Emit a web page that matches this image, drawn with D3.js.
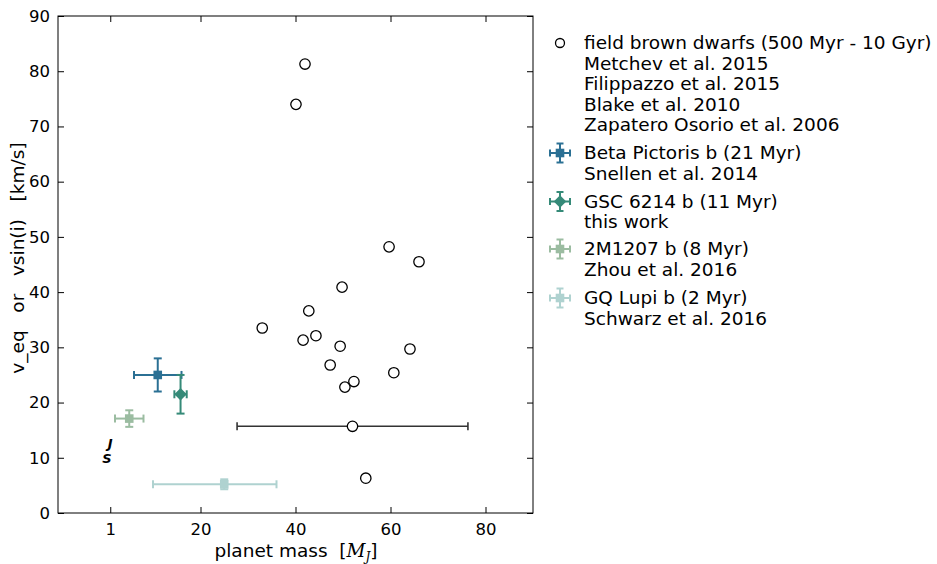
<!DOCTYPE html>
<html><head><meta charset="utf-8">
<script src="https://cdn.jsdelivr.net/npm/d3@7"></script>
<style>
body{margin:0;background:#fff;}
text{font-family:"DejaVu Sans",sans-serif;}
</style></head>
<body><svg id="c" width="937" height="564"></svg>
<script>
// Field brown dwarfs: mass [MJ], v [km/s], mass error (0 = none)
const bdMass = [42.0, 40.1, 59.7, 66.0, 49.8, 42.8, 33.0, 41.6, 44.3, 49.4, 64.1, 47.3, 60.7, 52.3, 50.4, 52.0, 54.8];
const bdVel  = [81.3, 74.0, 48.2, 45.5, 40.9, 36.6, 33.5, 31.3, 32.1, 30.2, 29.7, 26.8, 25.4, 23.8, 22.8, 15.7, 6.3];
const bdMassErr = [0,0,0,0,0,0,0,0,0,0,0,0,0,0,0,24.3,0];

// Young companions
const compNames = ["Beta Pictoris b (21 Myr)", "GSC 6214 b (11 Myr)", "2M1207 b (8 Myr)", "GQ Lupi b (2 Myr)"];
const compRefs  = ["Snellen et al. 2014", "this work", "Zhou et al. 2016", "Schwarz et al. 2016"];
const compMass  = [11.0, 15.8, 5.0, 25.0];
const compMassLo = [5.0, 1.3, 3.0, 15.0];
const compMassHi = [5.0, 1.3, 3.0, 11.0];
const compVel   = [25.0, 21.5, 17.1, 5.2];
const compVelErr = [3.0, 3.5, 1.5, 0.9];
const compShape = ["square", "diamond", "square", "square"];
const compColor = ["#2b7094", "#358a78", "#9bbca1", "#afd2d0"];

const bdLegend = ["field brown dwarfs (500 Myr - 10 Gyr)", "Metchev et al. 2015", "Filippazzo et al. 2015", "Blake et al. 2010", "Zapatero Osorio et al. 2006"];

// Solar system planets
const ssLabels = ["J", "S"];
const ssMass = [1.0, 0.3];
const ssVel = [12.6, 9.9];

const xTicks = [1, 20, 40, 60, 80];
const yTicks = [0,10,20,30,40,50,60,70,80,90];

const svg = d3.select("#c");
const L = 58, R = 533, T = 16, B = 513;
const x = d3.scaleLinear().domain([-10, 90]).range([L, R]);
const y = d3.scaleLinear().domain([0, 90]).range([B, T]);

const g = svg.append("g");

// frame
g.append("rect").attr("x", L).attr("y", T).attr("width", R-L).attr("height", B-T)
 .attr("fill", "none").attr("stroke", "#000").attr("stroke-width", 1);

// axes with inward ticks
const axB = d3.axisBottom(x).tickValues(xTicks).tickSize(-6).tickPadding(10).tickFormat(d3.format("d"));
const axT = d3.axisTop(x).tickValues(xTicks).tickSize(-6).tickFormat("");
const axL = d3.axisLeft(y).tickValues(yTicks).tickSize(-6).tickPadding(8).tickFormat(d3.format("d"));
const axR = d3.axisRight(y).tickValues(yTicks).tickSize(-6).tickFormat("");
function styleAx(sel){
  sel.select(".domain").remove();
  sel.selectAll(".tick line").attr("stroke", "#000").attr("stroke-width", 1);
  sel.selectAll(".tick text").attr("font-size", 16.5).attr("fill", "#000").attr("font-family", "DejaVu Sans");
}
g.append("g").attr("transform", `translate(0,${B})`).call(axB).call(styleAx);
g.append("g").attr("transform", `translate(0,${T})`).call(axT).call(styleAx);
g.append("g").attr("transform", `translate(${L},0)`).call(axL).call(styleAx);
g.append("g").attr("transform", `translate(${R},0)`).call(axR).call(styleAx);

// axis labels
svg.append("text").attr("x", 296).attr("y", 557).attr("text-anchor", "middle")
  .attr("font-size", 18.5).attr("fill", "#000")
  .html('planet mass&#160;&#160;[<tspan font-family="DejaVu Serif" font-style="italic">M</tspan><tspan font-family="DejaVu Serif" font-style="italic" font-size="12" dy="4">J</tspan><tspan dy="-4">]</tspan>');
svg.append("text").attr("transform", `translate(24,258) rotate(-90)`)
  .attr("text-anchor", "middle").attr("font-size", 18.5).attr("fill", "#000")
  .style("white-space", "pre")
  .text("v_eq   or   vsin(i)   [km/s]");

// error bar helper
function errBar(sel, cx, cy, x0, x1, y0, y1, color, sw, cap){
  const gg = sel.append("g").attr("stroke", color).attr("stroke-width", sw).attr("fill", "none");
  if (x0 !== x1){
    gg.append("line").attr("x1", x0).attr("x2", x1).attr("y1", cy).attr("y2", cy);
    gg.append("line").attr("x1", x0).attr("x2", x0).attr("y1", cy-cap).attr("y2", cy+cap);
    gg.append("line").attr("x1", x1).attr("x2", x1).attr("y1", cy-cap).attr("y2", cy+cap);
  }
  if (y0 !== y1){
    gg.append("line").attr("x1", cx).attr("x2", cx).attr("y1", y0).attr("y2", y1);
    gg.append("line").attr("x1", cx-cap).attr("x2", cx+cap).attr("y1", y0).attr("y2", y0);
    gg.append("line").attr("x1", cx-cap).attr("x2", cx+cap).attr("y1", y1).attr("y2", y1);
  }
}

// brown dwarfs
const bd = bdMass.map((m,i)=>({m, v: bdVel[i], e: bdMassErr[i]}));
bd.filter(d=>d.e>0).forEach(d=>{
  errBar(g, x(d.m), y(d.v), x(d.m-d.e), x(d.m+d.e), y(d.v), y(d.v), "#333", 1.6, 4);
});
g.selectAll("circle.bd").data(bd).enter().append("circle").attr("class","bd")
  .attr("cx", d=>x(d.m)).attr("cy", d=>y(d.v)).attr("r", 5.2)
  .attr("fill", "#fff").attr("stroke", "#000").attr("stroke-width", 1.3);

// solar system letters
ssLabels.forEach((s,i)=>{
  g.append("text").attr("x", x(ssMass[i])).attr("y", y(ssVel[i])).attr("dy", "0.35em")
   .attr("text-anchor", "middle").attr("font-family", "DejaVu Serif").attr("font-style", "italic")
   .attr("font-weight", "bold").attr("font-size", 13).attr("fill", "#000").text(s);
});

function marker(sel, shape, cx, cy, color, s){
  if (shape === "square"){
    sel.append("rect").attr("x", cx-s).attr("y", cy-s).attr("width", 2*s).attr("height", 2*s).attr("fill", color);
  } else {
    const d = s*1.45;
    sel.append("path").attr("d", `M${cx},${cy-d}L${cx+d},${cy}L${cx},${cy+d}L${cx-d},${cy}Z`).attr("fill", color);
  }
}

// companions
[3,2,0,1].forEach(i=>{
  const cx = x(compMass[i]), cy = y(compVel[i]);
  errBar(g, cx, cy, x(compMass[i]-compMassLo[i]), x(compMass[i]+compMassHi[i]),
    y(compVel[i]-compVelErr[i]), y(compVel[i]+compVelErr[i]), compColor[i], 2, 4);
  marker(g, compShape[i], cx, cy, compColor[i], 4.3);
});

// legend
const lx = 560, tx = 584, fs = 18.5, lh = 20.5;
const lg = svg.append("g");
lg.append("circle").attr("cx", lx).attr("cy", 43).attr("r", 4.5).attr("fill", "#fff").attr("stroke", "#000").attr("stroke-width", 1.3);
bdLegend.forEach((t,i)=>{
  lg.append("text").attr("x", tx).attr("y", 43 + i*lh).attr("dy", "0.35em").attr("font-size", fs).attr("fill", "#000").text(t);
});
const legY = [153, 201.5, 249, 298];
compNames.forEach((nm,i)=>{
  const cy = legY[i];
  errBar(lg, lx, cy, lx-10, lx+10, cy-9.5, cy+9.5, compColor[i], 2, 3.5);
  marker(lg, compShape[i], lx, cy, compColor[i], 4.3);
  lg.append("text").attr("x", tx).attr("y", cy).attr("dy", "0.35em").attr("font-size", fs).attr("fill", "#000").text(nm);
  lg.append("text").attr("x", tx).attr("y", cy + lh).attr("dy", "0.35em").attr("font-size", fs).attr("fill", "#000").text(compRefs[i]);
});
</script></body></html>
